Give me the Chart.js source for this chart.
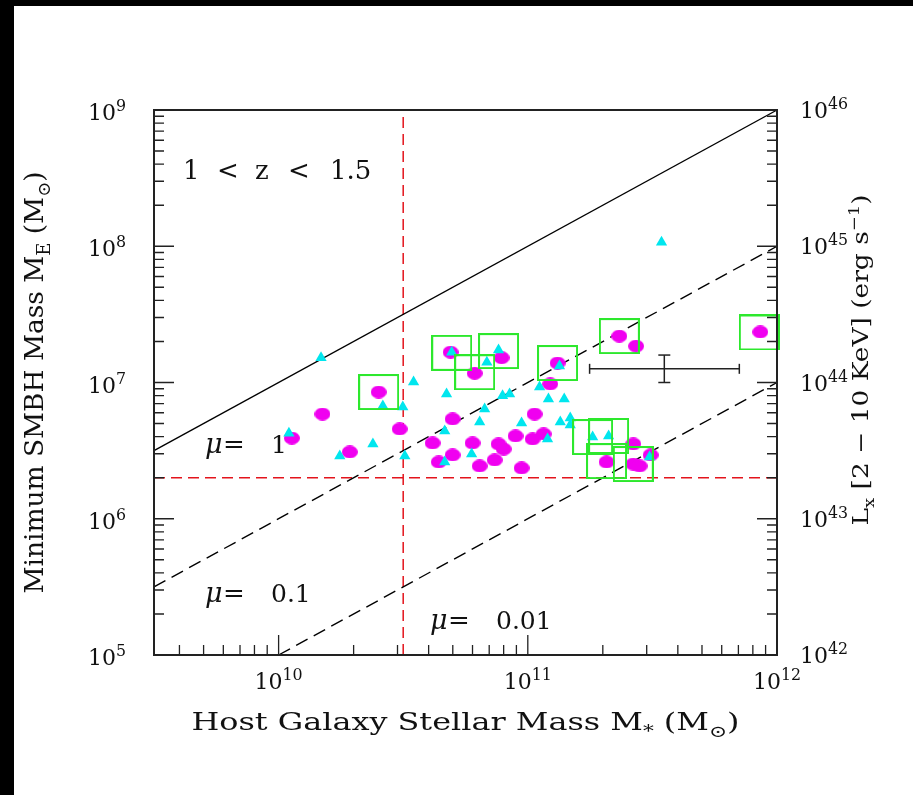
<!DOCTYPE html>
<html>
<head>
<meta charset="utf-8">
<script src="https://cdn.jsdelivr.net/npm/chart.js@4.4.1/dist/chart.umd.min.js"></script>
<style>
    html, body { margin: 0; padding: 0; background: #000; width: 913px; height: 795px; overflow: hidden; }
    #wrap { position: absolute; left: 14px; top: 6px; width: 899px; height: 789px; background: #fff; }
</style>
</head>
<body>
<div id="wrap"><canvas id="massChart"></canvas></div>
<script>
// axis ranges
const X_MIN = 3.162e9, X_MAX = 1e12;
const Y_MIN = 1e5, Y_MAX = 1e9;
const LX_MIN = 1e42, LX_MAX = 1e46;

// tick labels (powers of ten)
const xTickValues = [1e10, 1e11, 1e12];
const yTickValues = [1e5, 1e6, 1e7, 1e8, 1e9];
const lxTickValues = [1e42, 1e43, 1e44, 1e45, 1e46];

// magenta circles
const circleMstar = [1.13e10, 1.50e10, 1.93e10, 2.52e10, 3.06e10, 4.15e10, 4.39e10, 4.90e10, 6.12e10, 7.85e10,
    4.99e10, 4.99e10, 6.0e10, 6.41e10, 7.36e10, 7.63e10, 8.0e10, 8.93e10, 9.44e10, 1.045e11,
    1.065e11, 1.157e11, 1.23e11, 1.316e11, 2.33e11, 2.72e11, 8.57e11, 2.65e11, 3.11e11, 2.07e11,
    2.65e11, 2.81e11];
const circleMbh = [3.91e6, 5.87e6, 3.09e6, 8.51e6, 4.56e6, 3.60e6, 2.61e6, 1.67e7, 1.17e7, 1.52e7,
    5.4e6, 2.94e6, 3.60e6, 2.44e6, 2.70e6, 3.54e6, 3.25e6, 4.05e6, 2.36e6, 3.85e6,
    5.87e6, 4.19e6, 9.75e6, 1.39e7, 2.19e7, 1.85e7, 2.35e7, 3.54e6, 2.94e6, 2.61e6,
    2.52e6, 2.44e6];

// cyan triangles
const triMstar = [1.10e10, 1.48e10, 2.62e10, 3.15e10, 3.48e10, 2.39e10, 1.76e10, 3.21e10, 4.64e10, 4.72e10,
    4.64e10, 4.95e10, 6.85e10, 7.63e10, 6.71e10, 6.41e10, 5.95e10, 7.92e10, 8.45e10, 9.44e10,
    1.115e11, 1.20e11, 3.44e11, 1.21e11, 1.40e11, 1.35e11, 1.48e11, 1.48e11, 1.34e11, 1.82e11,
    2.11e11, 3.08e11];
const triMbh = [4.25e6, 1.52e7, 6.73e6, 6.6e6, 1.01e7, 3.54e6, 2.89e6, 2.89e6, 4.40e6, 8.24e6,
    2.61e6, 1.67e7, 1.41e7, 1.73e7, 6.39e6, 5.13e6, 2.99e6, 7.98e6, 8.24e6, 5.04e6,
    9.27e6, 3.85e6, 1.07e8, 7.56e6, 7.56e6, 5.13e6, 5.49e6, 4.88e6, 1.32e7, 3.98e6,
    4.05e6, 2.84e6];

// green boxes
const boxMstar = [2.52e10, 4.95e10, 6.12e10, 7.63e10, 1.316e11, 2.33e11, 8.49e11, 1.82e11, 2.11e11, 2.07e11, 2.65e11];
const boxMbh = [8.51e6, 1.65e7, 1.19e7, 1.70e7, 1.39e7, 2.19e7, 2.33e7, 3.98e6, 4.05e6, 2.65e6, 2.52e6];

// mu lines (end points)
const muLineMstar = [3.162e9, 1e12];
const mu1Mbh = [3.162e6, 1e9];
const mu01Mbh = [3.162e5, 1e8];
const mu001Mstar = [1e10, 1e12];
const mu001Mbh = [1e5, 1e7];
const muLabels = ['1', '0.1', '0.01'];

// red limits
const limitMstar = 3.162e10;
const limitMbh = 2e6;

// typical error bar
const errMstar = 3.53e11, errMstarRange = [1.77e11, 7.06e11];
const errMbh = 1.26e7, errMbhRange = [1.0e7, 1.59e7];

const FONT = '"DejaVu Serif", "Liberation Serif", serif';

function toXY(xs, ys) {
    return xs.map(function (x, i) { return { x: x, y: ys[i] }; });
}

function ellipseStyle(w, h, color) {
    var c = document.createElement('canvas');
    c.width = w; c.height = h;
    var g = c.getContext('2d');
    g.fillStyle = color;
    g.beginPath();
    g.ellipse(w / 2, h / 2, w / 2, h / 2, 0, 0, Math.PI * 2);
    g.fill();
    return c;
}

function boxStyle(w, h, color) {
    var c = document.createElement('canvas');
    c.width = w; c.height = h;
    var g = c.getContext('2d');
    g.strokeStyle = color;
    g.lineWidth = 2;
    g.strokeRect(1, 1, w - 2, h - 2);
    return c;
}

function logTicks(min, max) {
    var out = [];
    for (var d = Math.floor(Math.log10(min)); d <= Math.ceil(Math.log10(max)); d++) {
        for (var k = 1; k <= 9; k++) {
            var v = k * Math.pow(10, d);
            if (v >= min * 0.999 && v <= max * 1.001) out.push({ v: v, major: k === 1 });
        }
    }
    return out;
}

// parts: [text, mode] with mode 'n' | 'sub' | 'sup' | 'it'
function drawRich(ctx, parts, x, y, size, opts) {
    opts = opts || {};
    var small = size * (opts.ratio || 0.68);
    var fonts = parts.map(function (p) {
        if (p[1] === 'sub' || p[1] === 'sup') return small + 'px ' + FONT;
        if (p[1] === 'it') return 'italic ' + size + 'px ' + FONT;
        return size + 'px ' + FONT;
    });
    var widths = parts.map(function (p, i) { ctx.font = fonts[i]; return ctx.measureText(p[0]).width; });
    var total = widths.reduce(function (a, b) { return a + b; }, 0);
    var sx = opts.width ? opts.width / total : 1;
    ctx.save();
    ctx.translate(x, y);
    if (opts.angle) ctx.rotate(opts.angle);
    ctx.scale(sx, 1);
    var cx = opts.align === 'center' ? -total / 2 : (opts.align === 'right' ? -total : 0);
    ctx.textBaseline = 'alphabetic';
    ctx.textAlign = 'left';
    parts.forEach(function (p, i) {
        ctx.font = fonts[i];
        var dy = p[1] === 'sub' ? size * 0.28 : (p[1] === 'sup' ? -size * 0.4 : 0);
        ctx.fillText(p[0], cx, dy);
        cx += widths[i];
    });
    ctx.restore();
}

const decor = {
    id: 'decor',
    afterDatasetsDraw(chart) {
        var ctx = chart.ctx, a = chart.chartArea;
        var sx = chart.scales.x, sy = chart.scales.y, sy2 = chart.scales.y2;
        ctx.save();
        ctx.fillStyle = '#111';

        // frame
        ctx.strokeStyle = '#222';
        ctx.lineWidth = 2;
        ctx.strokeRect(a.left, a.top, a.right - a.left, a.bottom - a.top);

        // inward ticks
        ctx.lineWidth = 1.3;
        ctx.beginPath();
        logTicks(X_MIN, X_MAX).forEach(function (t) {
            var px = sx.getPixelForValue(t.v);
            ctx.moveTo(px, a.bottom); ctx.lineTo(px, a.bottom - (t.major ? 20 : 10));
        });
        logTicks(Y_MIN, Y_MAX).forEach(function (t) {
            var py = sy.getPixelForValue(t.v);
            ctx.moveTo(a.left, py); ctx.lineTo(a.left + (t.major ? 20 : 10), py);
        });
        logTicks(LX_MIN, LX_MAX).forEach(function (t) {
            var py = sy2.getPixelForValue(t.v);
            ctx.moveTo(a.right, py); ctx.lineTo(a.right - (t.major ? 20 : 10), py);
        });
        ctx.stroke();

        // tick labels
        var tickOpts = { ratio: 0.72 };
        xTickValues.forEach(function (v) {
            var e = String(Math.round(Math.log10(v)));
            drawRich(ctx, [['10', 'n'], [e, 'sup']], sx.getPixelForValue(v), a.bottom + 34, 22,
                Object.assign({ align: 'center' }, tickOpts));
        });
        yTickValues.forEach(function (v) {
            var e = String(Math.round(Math.log10(v)));
            drawRich(ctx, [['10', 'n'], [e, 'sup']], a.left - 28, sy.getPixelForValue(v) + 10, 22,
                Object.assign({ align: 'right' }, tickOpts));
        });
        lxTickValues.forEach(function (v) {
            var e = String(Math.round(Math.log10(v)));
            drawRich(ctx, [['10', 'n'], [e, 'sup']], a.right + 23, sy2.getPixelForValue(v) + 8, 22,
                Object.assign({ align: 'left' }, tickOpts));
        });

        // axis titles
        drawRich(ctx, [['Host Galaxy Stellar Mass M', 'n'], ['*', 'sub'], [' (M', 'n'], ['\u2299', 'sub'], [')', 'n']],
            (a.left + a.right) / 2, a.bottom + 75, 24, { align: 'center', width: 548 });
        drawRich(ctx, [['Minimum SMBH Mass M', 'n'], ['E', 'sub'], [' (M', 'n'], ['\u2299', 'sub'], [')', 'n']],
            29, (a.top + a.bottom) / 2, 26, { align: 'center', angle: -Math.PI / 2, width: 422 });
        drawRich(ctx, [['L', 'n'], ['x', 'sub'], [' [2 \u2212 10 KeV] (erg s', 'n'], ['\u22121', 'sup'], [')', 'n']],
            a.right + 91, 354, 22, { align: 'center', angle: -Math.PI / 2, width: 331 });

        // redshift label
        var zTokens = ['1', '<', 'z', '<', '1.5'];
        var zOffsets = [0, 34, 72, 105, 147];
        zTokens.forEach(function (t, i) {
            drawRich(ctx, [[t, 'n']], a.left + 29 + zOffsets[i], a.top + 69, 26);
        });

        // mu labels
        var muPos = [[51, 343], [51, 492], [276, 519]];
        muLabels.forEach(function (m, i) {
            var x0 = a.left + muPos[i][0], y0 = a.top + muPos[i][1];
            drawRich(ctx, [['\u03bc', 'it']], x0, y0, 27);
            drawRich(ctx, [['=', 'n']], x0 + 18, y0, 26);
            drawRich(ctx, [[m, 'n']], x0 + 66, y0, 25);
        });
        ctx.restore();
    }
};

const lineBase = { showLine: true, pointRadius: 0, fill: false, clip: false };

const ctxMass = document.getElementById('massChart').getContext('2d');
const massChart = new Chart(ctxMass, {
    type: 'scatter',
    data: {
        datasets: [{
            label: 'boxes',
            data: toXY(boxMstar, boxMbh),
            pointStyle: boxStyle(41, 36, '#2de82d'),
            clip: false
        }, {
            label: 'triangles',
            data: toXY(triMstar, triMbh),
            pointStyle: 'triangle',
            pointRadius: 6.5,
            backgroundColor: '#00e6ee',
            borderWidth: 0,
            clip: false
        }, {
            label: 'circles',
            data: toXY(circleMstar, circleMbh),
            pointStyle: ellipseStyle(16, 13, '#f000f0'),
            clip: false
        }, Object.assign({}, lineBase, {
            label: 'err x',
            data: toXY(errMstarRange, [errMbh, errMbh]),
            borderColor: '#222', borderWidth: 1.5,
            pointStyle: 'line', rotation: 90, pointRadius: 5, pointBorderWidth: 1.5, pointBorderColor: '#222'
        }), Object.assign({}, lineBase, {
            label: 'err y',
            data: toXY([errMstar, errMstar], errMbhRange),
            borderColor: '#222', borderWidth: 1.5,
            pointStyle: 'line', rotation: 0, pointRadius: 6, pointBorderWidth: 1.5, pointBorderColor: '#222'
        }), Object.assign({}, lineBase, {
            label: 'mu 1',
            data: toXY(muLineMstar, mu1Mbh),
            borderColor: '#000', borderWidth: 1.4
        }), Object.assign({}, lineBase, {
            label: 'mu 0.1',
            data: toXY(muLineMstar, mu01Mbh),
            borderColor: '#000', borderWidth: 1.4, borderDash: [13, 7]
        }), Object.assign({}, lineBase, {
            label: 'mu 0.01',
            data: toXY(mu001Mstar, mu001Mbh),
            borderColor: '#000', borderWidth: 1.4, borderDash: [13, 7]
        }), Object.assign({}, lineBase, {
            label: 'mass limit',
            data: toXY([limitMstar, limitMstar], [Y_MIN, Y_MAX]),
            borderColor: '#e3141c', borderWidth: 1.5, borderDash: [11, 6]
        }), Object.assign({}, lineBase, {
            label: 'bh limit',
            data: toXY([X_MIN, X_MAX], [limitMbh, limitMbh]),
            borderColor: '#e3141c', borderWidth: 1.5, borderDash: [11, 6]
        })]
    },
    options: {
        responsive: true,
        maintainAspectRatio: false,
        animation: false,
        events: [],
        layout: { padding: { top: 104, left: 0, right: 0, bottom: 0 } },
        plugins: {
            legend: { display: false },
            tooltip: { enabled: false }
        },
        scales: {
            x: {
                type: 'logarithmic', position: 'bottom', min: X_MIN, max: X_MAX,
                grid: { display: false }, border: { display: false }, ticks: { display: false },
                afterFit: function (s) { s.height = 140; }
            },
            y: {
                type: 'logarithmic', position: 'left', min: Y_MIN, max: Y_MAX,
                grid: { display: false }, border: { display: false }, ticks: { display: false },
                afterFit: function (s) { s.width = 140; }
            },
            y2: {
                type: 'logarithmic', position: 'right', min: LX_MIN, max: LX_MAX,
                grid: { display: false }, border: { display: false }, ticks: { display: false },
                afterFit: function (s) { s.width = 136; }
            }
        }
    },
    plugins: [decor]
});
</script>
</body>
</html>
